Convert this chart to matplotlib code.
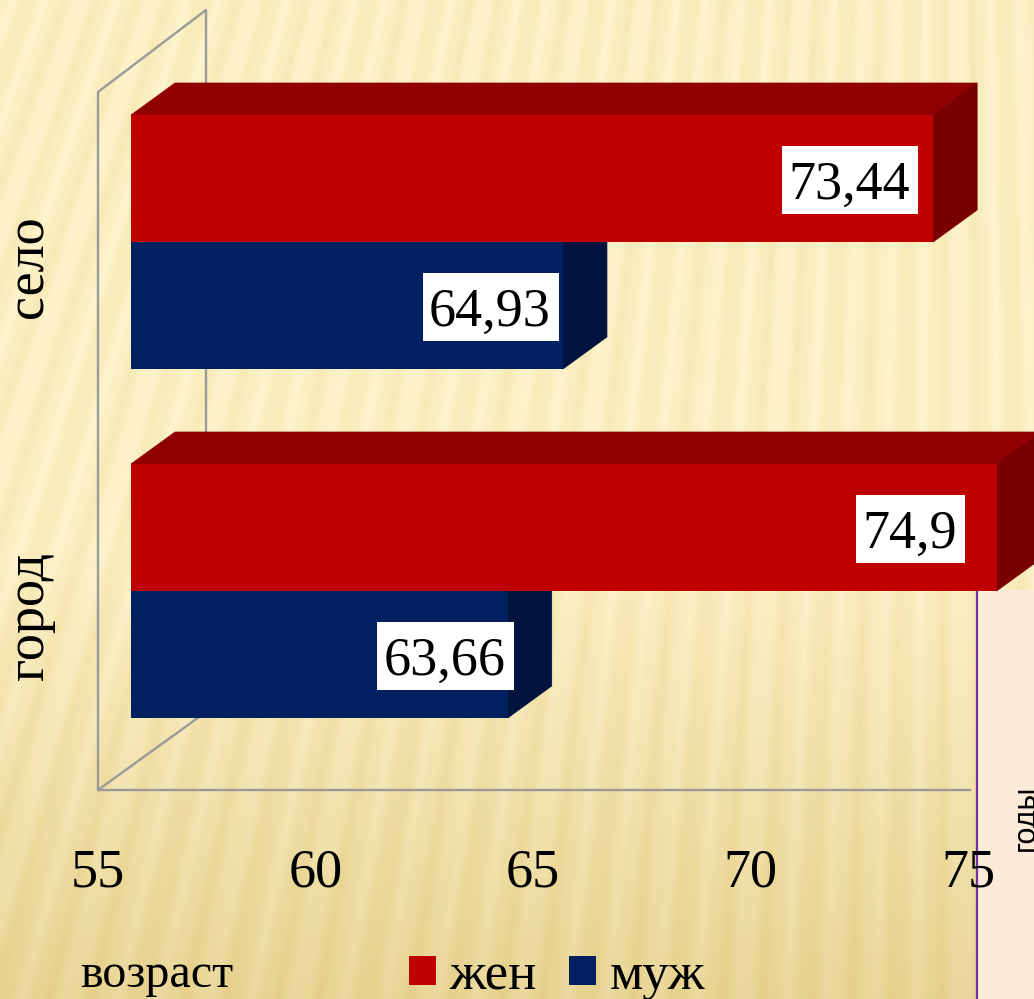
import numpy as np
import matplotlib
matplotlib.use("Agg")
import matplotlib.pyplot as plt
from matplotlib.patches import Polygon, Rectangle
from matplotlib.path import Path
from matplotlib.transforms import Affine2D

W, H = 1034, 999

categories = ["город", "село"]
men = [63.66, 64.93]
women = [74.9, 73.44]
men_labels = ["63,66", "64,93"]
women_labels = ["74,9", "73,44"]
x_ticks = [55, 60, 65, 70, 75]

RED, RED_TOP, RED_SIDE = "#be0000", "#900000", "#780000"
BLUE, BLUE_TOP, BLUE_SIDE = "#002060", "#001a4d", "#00143f"
GREY = "#9a9a9a"

plt.rcParams["font.family"] = ["Liberation Serif", "DejaVu Serif"]


def px(x, y):
    return x / W, 1 - y / H


def background():
    # slide backdrop: soft fan of stripes over a vertical gradient
    yy, xx = np.mgrid[0:H, 0:W]
    theta = np.arctan2(xx - 950.0, yy + 2500.0)
    stripes = 0.75 * np.sin(theta * 2 * np.pi / 0.0125) + 0.25 * np.sin(theta * 2 * np.pi / 0.0052 + 1)
    t = np.clip((yy - 550) / 449.0, 0, 1)[..., None]
    top = np.array([251, 239, 194.0])
    bottom = np.array([232, 212, 148.0])
    img = top * (1 - t) + bottom * t
    img = img + stripes[..., None] * np.array([3.0, 5.0, 11.0])
    return np.clip(img, 0, 255).astype(np.uint8)


def label_box(x0, y0, width, height, mutation_size):
    # white label plate is taller than the digits, more room above than below
    x = x0 - 6.5
    y = y0 - 3.5
    w = width + 15
    h = height + 18
    return Path([(x, y), (x + w, y), (x + w, y + h), (x, y + h), (x, y)], closed=True)


fig = plt.figure(figsize=(W / 100, H / 100), dpi=100)

bg = fig.add_axes([0, 0, 1, 1], zorder=0)
bg.imshow(background(), aspect="auto", extent=(0, W, H, 0))
# slide panel peeking out behind the chart
bg.add_patch(Rectangle((977, 590), 60, 420, fc="#fbebd8", ec="none"))
bg.plot([977, 977], [590, H], color="#7030a0", lw=1.6)
bg.text(1026, 818, "годы", rotation=90, ha="center", va="center", fontsize=22,
        family=["Liberation Sans"], color="black")
bg.set_xlim(0, W)
bg.set_ylim(H, 0)
bg.axis("off")

# front plane of the 3D box is the real axes
left, bottom = px(98, 790)
right, top = px(968, 92)
ax = fig.add_axes([left, bottom, right - left, top - bottom], zorder=1)
ax.patch.set_alpha(0)
ax.set_xlim(55, 75)
ax.set_ylim(-0.5, 1.5)

for s in ["top", "right", "left", "bottom"]:
    ax.spines[s].set_visible(False)

# wall and floor lines, drawn in pixels of the box
box = fig.add_axes([0, 0, 1, 1], zorder=0.5)
box.patch.set_alpha(0)
box.set_xlim(0, W)
box.set_ylim(H, 0)
box.axis("off")
box.plot([98, 98, 206, 206], [790, 92, 10, 712], color=GREY, lw=1.7)
box.plot([206, 98, 970], [712, 790, 790], color=GREY, lw=1.7)

ax.set_xticks(x_ticks)
ax.set_xticklabels([str(v) for v in x_ticks], fontsize=39)
ax.set_yticks(range(len(categories)))
ax.set_yticklabels(categories, fontsize=39, rotation=90, va="center")
ax.tick_params(axis="x", length=0, pad=42)
ax.tick_params(axis="y", length=0, pad=31)

# bars sit 33px in and 24px up from the front plane, 44x32 px deep
bar_tr = ax.transData + Affine2D().translate(33, 24.5)
H_BAR = 127 / 349.0
DX = 44 / 43.5
DY = 32 / 349.0


def bar3d(value, ypos, face, top_c, side_c, label, offset):
    y0, y1 = ypos, ypos + H_BAR
    ax.add_patch(Polygon([(55, y1), (55 + DX, y1 + DY), (value + DX, y1 + DY), (value, y1)],
                         fc=top_c, ec=top_c, lw=0.5, transform=bar_tr, clip_on=False))
    ax.add_patch(Polygon([(value, y0), (value + DX, y0 + DY), (value + DX, y1 + DY), (value, y1)],
                         fc=side_c, ec=side_c, lw=0.5, transform=bar_tr, clip_on=False))
    ax.barh(y0 + H_BAR / 2, value - 55, H_BAR, left=55, color=face, transform=bar_tr, clip_on=False)
    t = ax.annotate(label, (value, y0 + H_BAR / 2), xycoords=bar_tr, xytext=(offset, -7),
                    textcoords="offset pixels", ha="center", va="center", fontsize=39, zorder=6,
                    bbox=dict(fc="white", ec="none"))
    t.get_bbox_patch().set_boxstyle(label_box)


men_offsets = [-63, -73]
women_offsets = [-87, -84]
for i in range(len(categories)):
    bar3d(men[i], i - H_BAR, BLUE, BLUE_TOP, BLUE_SIDE, men_labels[i], men_offsets[i])
    bar3d(women[i], i, RED, RED_TOP, RED_SIDE, women_labels[i], women_offsets[i])

# legend and axis caption at the bottom of the slide
handles = [Rectangle((0, 0), 1, 1, fc=RED), Rectangle((0, 0), 1, 1, fc=BLUE)]
fig.legend(handles, ["жен", "муж"], ncol=2, frameon=False, fontsize=38,
           loc="center left", bbox_to_anchor=px(409, 976), handlelength=0.51, handleheight=0.47,
           handletextpad=0.25, columnspacing=0.62, borderpad=0, borderaxespad=0)
fig.text(*px(157, 975), "возраст", fontsize=34.7, ha="center", va="center")

fig.savefig("out.png", dpi=100)
